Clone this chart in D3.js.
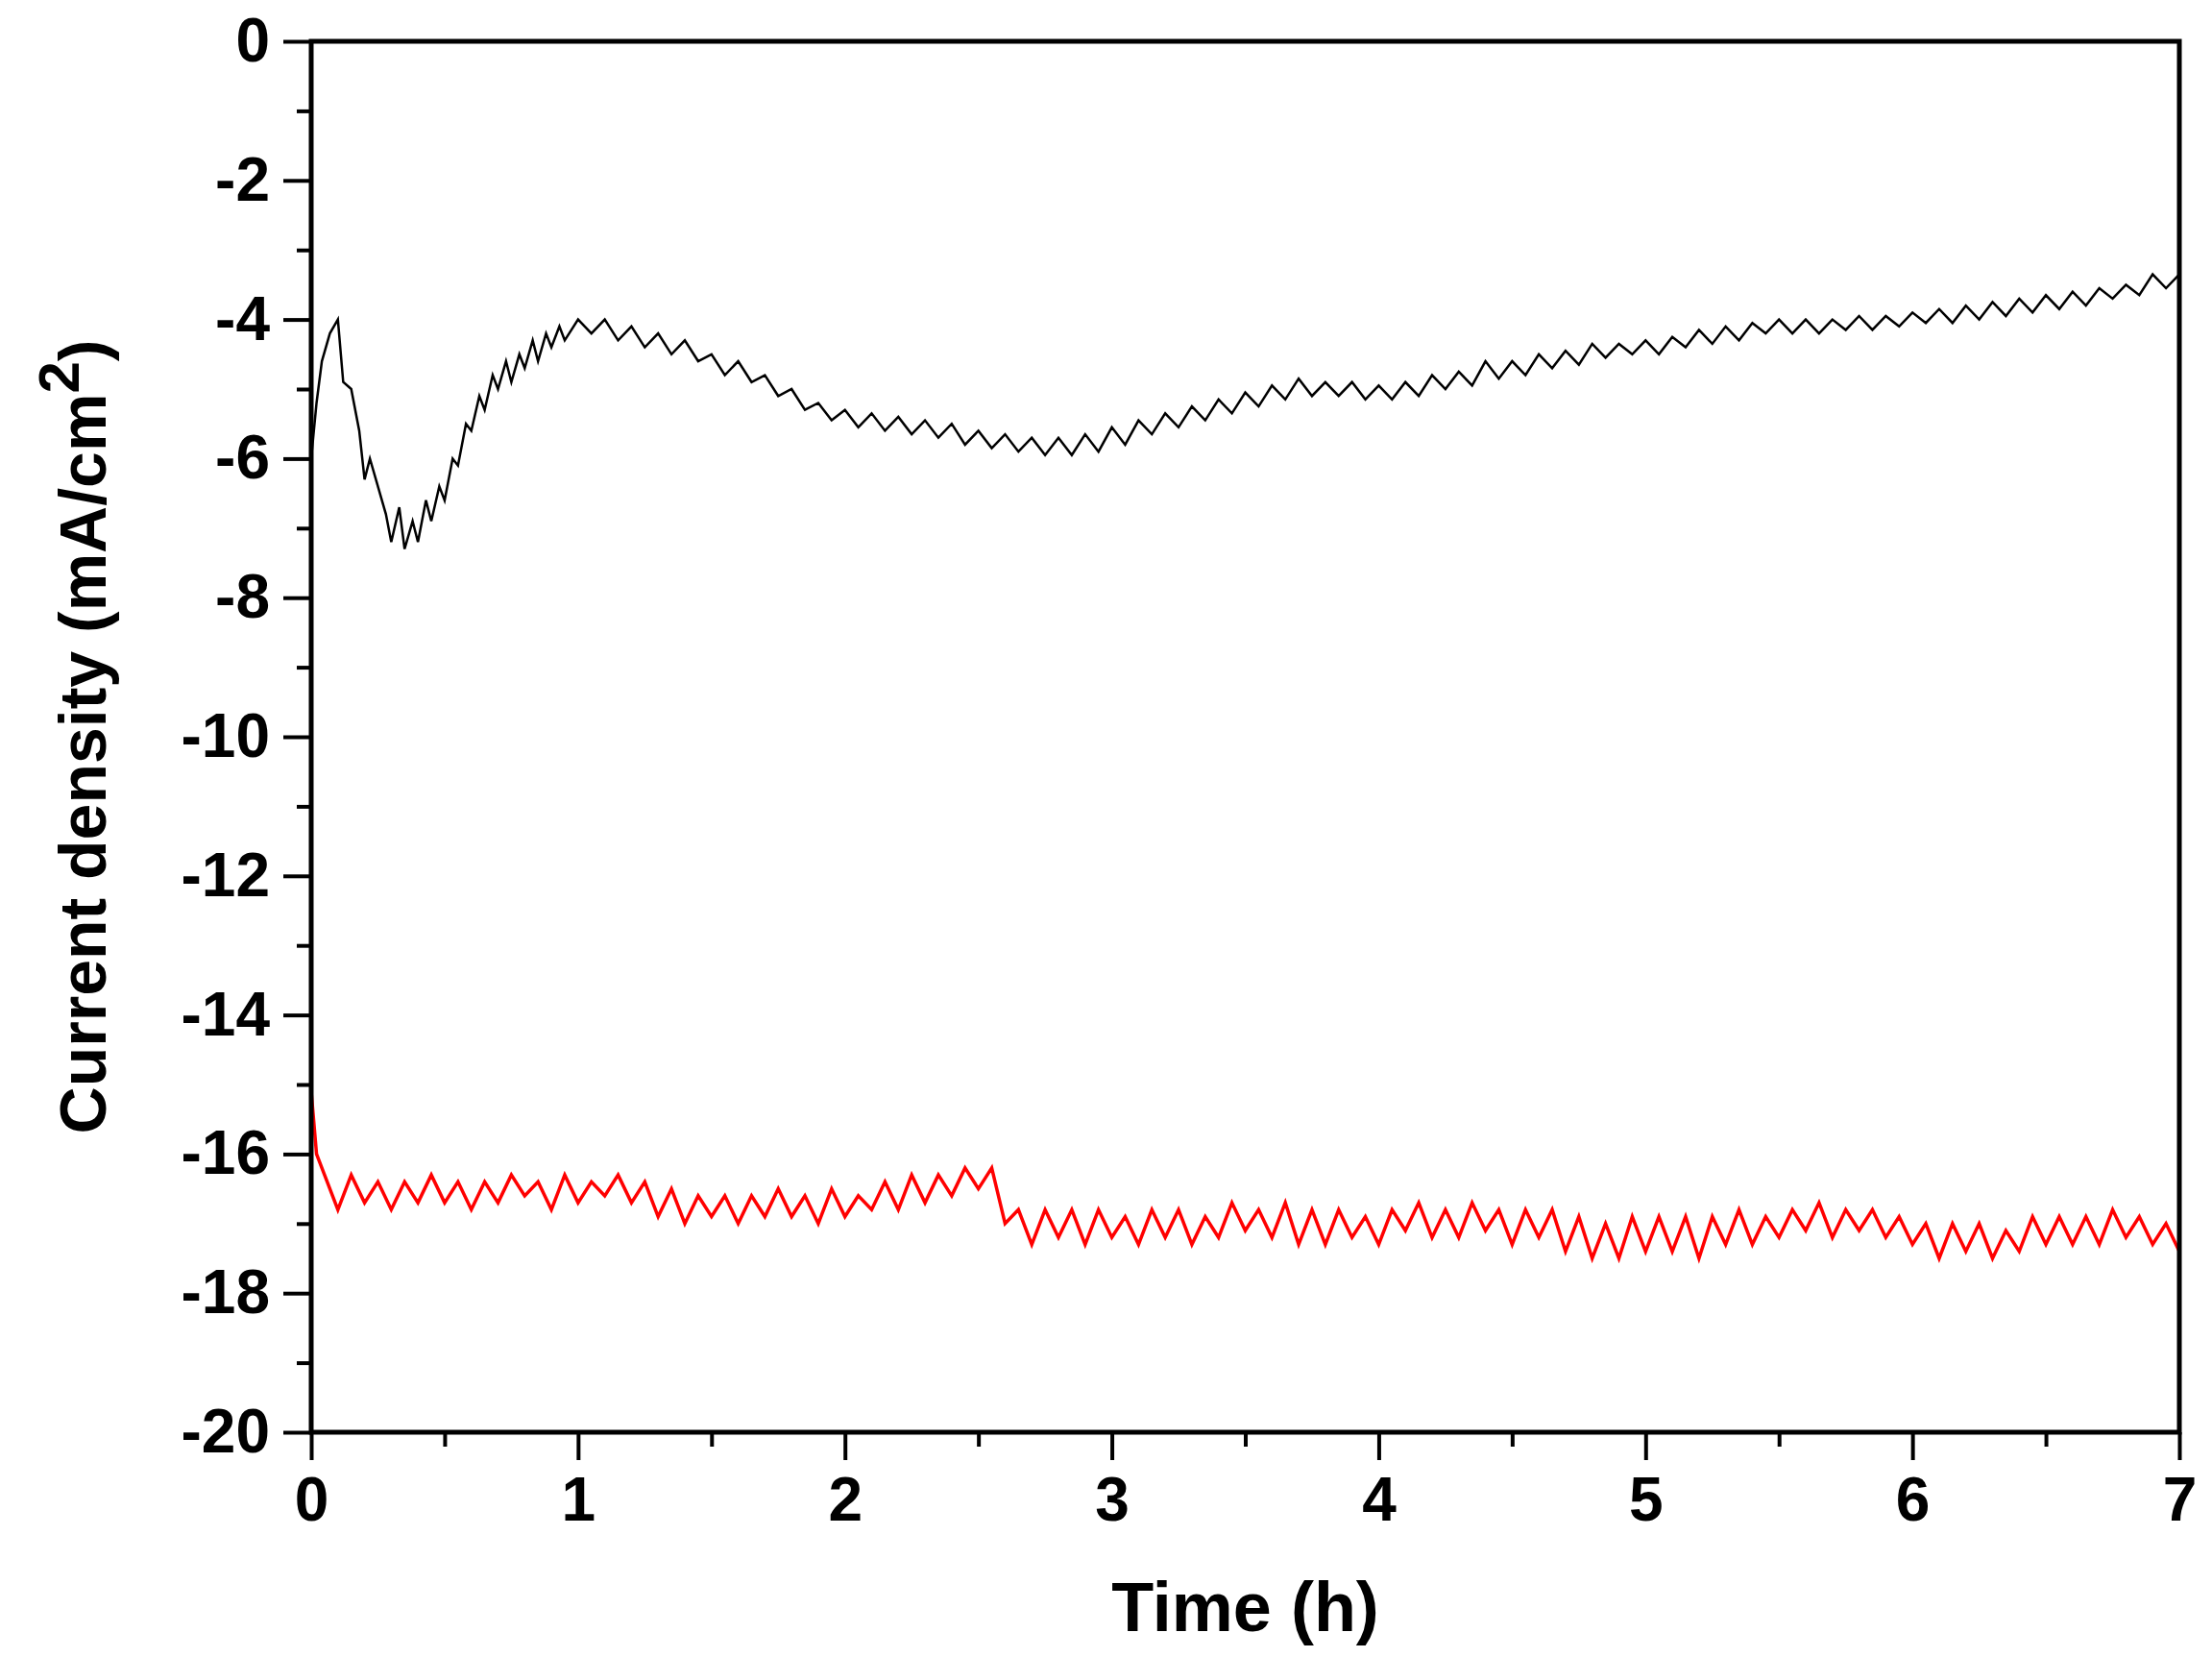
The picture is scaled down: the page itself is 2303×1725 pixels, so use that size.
<!DOCTYPE html>
<html><head><meta charset="utf-8">
<script src="https://cdn.jsdelivr.net/npm/d3@7"></script>
<style>body{margin:0;background:#fff}</style>
</head><body>
<div id="chart"></div>
<script>
var xTicks = [0, 1, 2, 3, 4, 5, 6, 7];
var yTicks = [0, -2, -4, -6, -8, -10, -12, -14, -16, -18, -20];

// black curve, [time h, current density]
var blackData = [
  [0,-6.0],[0.02,-5.2],[0.04,-4.6],[0.07,-4.2],[0.1,-4.0],[0.12,-4.9],[0.15,-5.0],[0.18,-5.6],[0.2,-6.3],
  [0.22,-6.0],[0.25,-6.4],[0.28,-6.8],[0.3,-7.2],[0.33,-6.7],[0.35,-7.3],[0.38,-6.9],[0.4,-7.2],[0.43,-6.6],
  [0.45,-6.9],[0.48,-6.4],[0.5,-6.6],[0.53,-6.0],[0.55,-6.1],[0.58,-5.5],[0.6,-5.6],[0.63,-5.1],[0.65,-5.3],
  [0.68,-4.8],[0.7,-5.0],[0.73,-4.6],[0.75,-4.9],[0.78,-4.5],[0.8,-4.7],[0.83,-4.3],[0.85,-4.6],[0.88,-4.2],
  [0.9,-4.4],[0.93,-4.1],[0.95,-4.3],[1.0,-4.0],[1.05,-4.2],[1.1,-4.0],[1.15,-4.3],[1.2,-4.1],[1.25,-4.4],
  [1.3,-4.2],[1.35,-4.5],[1.4,-4.3],[1.45,-4.6],[1.5,-4.5],[1.55,-4.8],[1.6,-4.6],[1.65,-4.9],[1.7,-4.8],
  [1.75,-5.1],[1.8,-5.0],[1.85,-5.3],[1.9,-5.2],[1.95,-5.45],[2.0,-5.3],[2.05,-5.55],[2.1,-5.35],[2.15,-5.6],
  [2.2,-5.4],[2.25,-5.65],[2.3,-5.45],[2.35,-5.7],[2.4,-5.5],[2.45,-5.8],[2.5,-5.6],[2.55,-5.85],[2.6,-5.65],
  [2.65,-5.9],[2.7,-5.7],[2.75,-5.95],[2.8,-5.7],[2.85,-5.95],[2.9,-5.65],[2.95,-5.9],[3.0,-5.55],[3.05,-5.8],
  [3.1,-5.45],[3.15,-5.65],[3.2,-5.35],[3.25,-5.55],[3.3,-5.25],[3.35,-5.45],[3.4,-5.15],[3.45,-5.35],
  [3.5,-5.05],[3.55,-5.25],[3.6,-4.95],[3.65,-5.15],[3.7,-4.85],[3.75,-5.1],[3.8,-4.9],[3.85,-5.1],[3.9,-4.9],
  [3.95,-5.15],[4.0,-4.95],[4.05,-5.15],[4.1,-4.9],[4.15,-5.1],[4.2,-4.8],[4.25,-5.0],[4.3,-4.75],[4.35,-4.95],
  [4.4,-4.6],[4.45,-4.85],[4.5,-4.6],[4.55,-4.8],[4.6,-4.5],[4.65,-4.7],[4.7,-4.45],[4.75,-4.65],[4.8,-4.35],
  [4.85,-4.55],[4.9,-4.35],[4.95,-4.5],[5.0,-4.3],[5.05,-4.5],[5.1,-4.25],[5.15,-4.4],[5.2,-4.15],[5.25,-4.35],
  [5.3,-4.1],[5.35,-4.3],[5.4,-4.05],[5.45,-4.2],[5.5,-4.0],[5.55,-4.2],[5.6,-4.0],[5.65,-4.2],[5.7,-4.0],
  [5.75,-4.15],[5.8,-3.95],[5.85,-4.15],[5.9,-3.95],[5.95,-4.1],[6.0,-3.9],[6.05,-4.05],[6.1,-3.85],[6.15,-4.05],
  [6.2,-3.8],[6.25,-4.0],[6.3,-3.75],[6.35,-3.95],[6.4,-3.7],[6.45,-3.9],[6.5,-3.65],[6.55,-3.85],[6.6,-3.6],
  [6.65,-3.8],[6.7,-3.55],[6.75,-3.7],[6.8,-3.5],[6.85,-3.65],[6.9,-3.35],[6.95,-3.55],[7.0,-3.35]
];

// red curve start, then samples every 0.05 h from 0.10 h
var redStart = [[0,-15.1],[0.02,-16.0],[0.05,-16.3]];
var redValues = [
  -16.8,-16.3,-16.7,-16.4,-16.8,-16.4,-16.7,-16.3,-16.7,-16.4,
  -16.8,-16.4,-16.7,-16.3,-16.6,-16.4,-16.8,-16.3,-16.7,-16.4,
  -16.6,-16.3,-16.7,-16.4,-16.9,-16.5,-17.0,-16.6,-16.9,-16.6,
  -17.0,-16.6,-16.9,-16.5,-16.9,-16.6,-17.0,-16.5,-16.9,-16.6,
  -16.8,-16.4,-16.8,-16.3,-16.7,-16.3,-16.6,-16.2,-16.5,-16.2,
  -17.0,-16.8,-17.3,-16.8,-17.2,-16.8,-17.3,-16.8,-17.2,-16.9,
  -17.3,-16.8,-17.2,-16.8,-17.3,-16.9,-17.2,-16.7,-17.1,-16.8,
  -17.2,-16.7,-17.3,-16.8,-17.3,-16.8,-17.2,-16.9,-17.3,-16.8,
  -17.1,-16.7,-17.2,-16.8,-17.2,-16.7,-17.1,-16.8,-17.3,-16.8,
  -17.2,-16.8,-17.4,-16.9,-17.5,-17.0,-17.5,-16.9,-17.4,-16.9,
  -17.4,-16.9,-17.5,-16.9,-17.3,-16.8,-17.3,-16.9,-17.2,-16.8,
  -17.1,-16.7,-17.2,-16.8,-17.1,-16.8,-17.2,-16.9,-17.3,-17.0,
  -17.5,-17.0,-17.4,-17.0,-17.5,-17.1,-17.4,-16.9,-17.3,-16.9,
  -17.3,-16.9,-17.3,-16.8,-17.2,-16.9,-17.3,-17.0,-17.4
];
var redData = redStart.concat(redValues.map(function(v, i) { return [0.1 + i * 0.05, v]; }));

var W = 2303, H = 1725;
var m = {left: 324, right: 2269, top: 43, bottom: 1491};
var font = "'Liberation Sans',Arial,sans-serif";

var svg = d3.select('#chart').append('svg').attr('width', W).attr('height', H)
  .style('font-family', font);

var x = d3.scaleLinear().domain([0, 7]).range([m.left, m.right]);
var y = d3.scaleLinear().domain([-20, 0]).range([m.bottom, m.top]);

var line = d3.line().x(function(d) { return x(d[0]); }).y(function(d) { return y(d[1]); });

svg.append('path').datum(blackData).attr('d', line)
  .attr('fill', 'none').attr('stroke', '#000').attr('stroke-width', 2.5);
svg.append('path').datum(redData).attr('d', line)
  .attr('fill', 'none').attr('stroke', '#ff0000').attr('stroke-width', 3.5);

// minor ticks
svg.append('g').attr('transform', 'translate(0,' + m.bottom + ')')
  .call(d3.axisBottom(x).tickValues(d3.range(0.5, 7, 1)).tickSize(15).tickFormat(''))
  .call(function(g) { g.select('.domain').remove(); g.selectAll('line').attr('stroke-width', 4); });
svg.append('g').attr('transform', 'translate(' + m.left + ',0)')
  .call(d3.axisLeft(y).tickValues(d3.range(-19, 0, 2)).tickSize(15).tickFormat(''))
  .call(function(g) { g.select('.domain').remove(); g.selectAll('line').attr('stroke-width', 4); });

var fmt = function(d) { return String(d); };
var xAxis = svg.append('g').attr('transform', 'translate(0,' + m.bottom + ')')
  .call(d3.axisBottom(x).tickValues(xTicks).tickSize(29).tickPadding(18).tickFormat(fmt));
var yAxis = svg.append('g').attr('transform', 'translate(' + m.left + ',0)')
  .call(d3.axisLeft(y).tickValues(yTicks).tickSize(29).tickPadding(14).tickFormat(fmt));
[xAxis, yAxis].forEach(function(g) {
  g.select('.domain').remove();
  g.selectAll('line').attr('stroke-width', 4);
  g.selectAll('text').attr('font-size', 64).attr('font-weight', 'bold').attr('font-family', font).attr('fill', '#000');
});

svg.append('rect').attr('x', m.left).attr('y', m.top)
  .attr('width', m.right - m.left).attr('height', m.bottom - m.top)
  .attr('fill', 'none').attr('stroke', '#000').attr('stroke-width', 5);

svg.append('text').attr('x', (m.left + m.right) / 2).attr('y', 1698)
  .attr('text-anchor', 'middle').attr('font-size', 72).attr('font-weight', 'bold')
  .text('Time (h)');

var yl = svg.append('text').attr('transform', 'translate(110,' + ((m.top + m.bottom) / 2) + ') rotate(-90)')
  .attr('text-anchor', 'middle').attr('font-size', 68).attr('font-weight', 'bold');
yl.append('tspan').text('Current density (mA/cm');
yl.append('tspan').attr('dy', -28).attr('font-size', 60).text('2');
yl.append('tspan').attr('dy', 28).text(')');
</script>
</body></html>
